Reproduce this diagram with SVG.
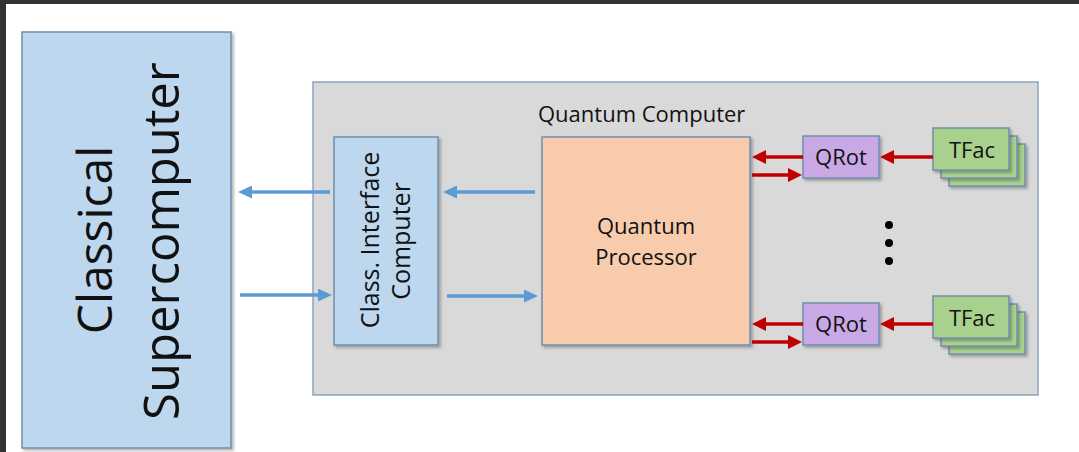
<svg xmlns="http://www.w3.org/2000/svg" width="1079" height="452" viewBox="0 0 1079 452">
  <style>
    .lbl { font-family: "Open Sans", "Noto Sans", "Liberation Sans", sans-serif; fill: #111; }
    .box { stroke: #6f8faf; stroke-width: 1.5; }
    .blue { fill: #bdd7ee; }
    .qp { fill: #f8cbad; }
    .qrot { fill: #c9a8e6; }
    .tfac { fill: #a9d18e; }
    .barrow { stroke: #5b9bd5; stroke-width: 3.5; fill: none; marker-end: url(#ab); }
    .rarrow { stroke: #c00000; stroke-width: 3.5; fill: none; marker-end: url(#ar); }
  </style>
  <defs>
    <filter id="sh" x="-10%" y="-10%" width="130%" height="130%">
      <feDropShadow dx="2" dy="2" stdDeviation="1.5" flood-color="#000" flood-opacity="0.3"/>
    </filter>
    <marker id="ab" markerUnits="userSpaceOnUse" markerWidth="15" markerHeight="13" refX="10" refY="6.5" orient="auto">
      <path d="M0,0 L14,6.5 L0,13 z" fill="#5b9bd5"/>
    </marker>
    <marker id="ar" markerUnits="userSpaceOnUse" markerWidth="15" markerHeight="14" refX="10" refY="7" orient="auto">
      <path d="M0,0 L14,7 L0,14 z" fill="#c00000"/>
    </marker>
  </defs>

  <rect x="0" y="0" width="1079" height="452" fill="#ffffff"/>
  <rect x="0" y="0" width="1079" height="4" fill="#333333"/>
  <rect x="0" y="0" width="6" height="452" fill="#333333"/>

  <g id="classical">
    <rect class="box blue" x="22" y="32" width="209" height="416" filter="url(#sh)"/>
    <text class="lbl" font-size="48" text-anchor="middle" transform="translate(112,240) rotate(-90)">Classical</text>
    <text class="lbl" font-size="49" text-anchor="middle" transform="translate(179,241) rotate(-90)">Supercomputer</text>
  </g>

  <g id="quantum-computer">
    <rect x="313" y="82" width="725" height="313" fill="#d9d9d9" stroke="#8aa4c0" stroke-width="1.5"/>
    <text class="lbl" font-size="22" x="538" y="122">Quantum Computer</text>
  </g>

  <g id="interface">
    <rect class="box blue" x="334" y="137" width="104" height="208" filter="url(#sh)"/>
    <text class="lbl" font-size="25" text-anchor="middle" transform="translate(379,240) rotate(-90)">Class. Interface</text>
    <text class="lbl" font-size="25" text-anchor="middle" transform="translate(410,241) rotate(-90)">Computer</text>
  </g>

  <g id="processor">
    <rect class="box qp" x="542" y="137" width="208" height="208" filter="url(#sh)"/>
    <text class="lbl" font-size="22" text-anchor="middle" x="646" y="234">Quantum</text>
    <text class="lbl" font-size="22" text-anchor="middle" x="646" y="265">Processor</text>
  </g>

  <g id="qrot-top">
    <rect class="box qrot" x="803" y="136" width="76" height="42" filter="url(#sh)"/>
    <text class="lbl" font-size="22" text-anchor="middle" x="841" y="165">QRot</text>
  </g>
  <g id="qrot-bottom">
    <rect class="box qrot" x="803" y="303" width="76" height="42" filter="url(#sh)"/>
    <text class="lbl" font-size="22" text-anchor="middle" x="841" y="332">QRot</text>
  </g>

  <g id="tfac-top">
    <rect class="box tfac" x="949" y="144" width="76" height="42" filter="url(#sh)"/>
    <rect class="box tfac" x="941" y="136" width="76" height="42" filter="url(#sh)"/>
    <rect class="box tfac" x="933" y="128" width="76" height="42" filter="url(#sh)"/>
    <text class="lbl" font-size="22" text-anchor="middle" x="972" y="158">TFac</text>
  </g>
  <g id="tfac-bottom">
    <rect class="box tfac" x="949" y="312" width="76" height="42" filter="url(#sh)"/>
    <rect class="box tfac" x="941" y="304" width="76" height="42" filter="url(#sh)"/>
    <rect class="box tfac" x="933" y="296" width="76" height="42" filter="url(#sh)"/>
    <text class="lbl" font-size="22" text-anchor="middle" x="972" y="326">TFac</text>
  </g>

  <g id="ellipsis" fill="#000">
    <circle cx="889" cy="225" r="4"/>
    <circle cx="889" cy="243" r="4"/>
    <circle cx="889" cy="261" r="4"/>
  </g>

  <g id="connectors">
    <line class="barrow" x1="330" y1="192" x2="242" y2="192"/>
    <line class="barrow" x1="240" y1="295" x2="328" y2="295"/>
    <line class="barrow" x1="535" y1="192" x2="447" y2="192"/>
    <line class="barrow" x1="447" y1="296" x2="534" y2="296"/>
    <line class="rarrow" x1="803" y1="157" x2="756" y2="157"/>
    <line class="rarrow" x1="752" y1="175" x2="798" y2="175"/>
    <line class="rarrow" x1="933" y1="157" x2="884" y2="157"/>
    <line class="rarrow" x1="803" y1="324" x2="756" y2="324"/>
    <line class="rarrow" x1="752" y1="342" x2="798" y2="342"/>
    <line class="rarrow" x1="933" y1="324" x2="884" y2="324"/>
  </g>
</svg>
